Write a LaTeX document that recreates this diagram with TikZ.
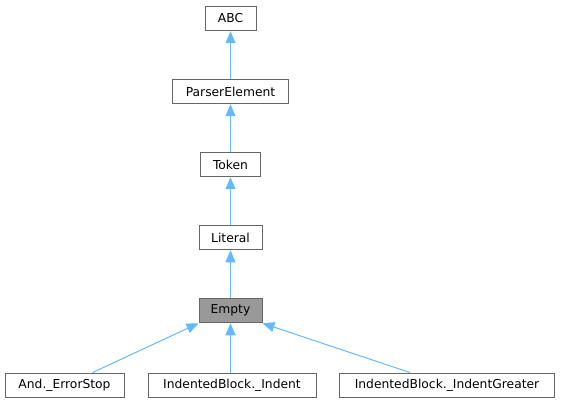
\documentclass[tikz,border=0pt]{standalone}
\usepackage{fontspec}
\setmainfont{DejaVu Sans}
\usetikzlibrary{arrows.meta}
\definecolor{edgeblue}{HTML}{63B8FF}
\definecolor{boxgray}{HTML}{666666}
\definecolor{fillgray}{HTML}{999999}
\tikzset{
  cls/.style={draw=boxgray, line width=1pt, fill=white, minimum height=24.5pt, inner xsep=5pt, inner ysep=0pt, font=\fontsize{12.3}{14}\selectfont, text=black},
  cur/.style={cls, fill=fillgray},
  inh/.style={draw=edgeblue, line width=1pt, -{Triangle[length=12pt,width=10pt]}}
}
\begin{document}
\begin{tikzpicture}[x=1pt,y=-1pt]
\useasboundingbox (0,0) rectangle (561,403);
\node[cls, minimum width=51pt] (abc) at (230.5,18.5) {ABC};
\node[cls, minimum width=116pt] (pe) at (230.5,91.5) {ParserElement};
\node[cls, minimum width=60pt] (tok) at (230.5,164.5) {Token};
\node[cls, minimum width=63pt] (lit) at (230.5,237.5) {Literal};
\node[cur, minimum width=63pt] (emp) at (230.5,310.5) {Empty};
\node[cls, minimum width=119pt] (and) at (64.5,385.3) {And.\_ErrorStop};
\node[cls, minimum width=168pt] (ind) at (232,385.3) {IndentedBlock.\_Indent};
\node[cls, minimum width=215pt] (indg) at (447,385.3) {IndentedBlock.\_IndentGreater};
\draw[inh] (pe) -- (abc);
\draw[inh] (tok) -- (pe);
\draw[inh] (lit) -- (tok);
\draw[inh] (emp) -- (lit);
\draw[inh] (and.north) ++(28,0) coordinate (a1) (a1) -- (emp.south west);
\draw[inh] (ind.north -| emp.south) -- (emp.south);
\draw[inh] (indg.north) ++(-37,0) coordinate (g1) (g1) -- (emp.south east);
\end{tikzpicture}
\end{document}
